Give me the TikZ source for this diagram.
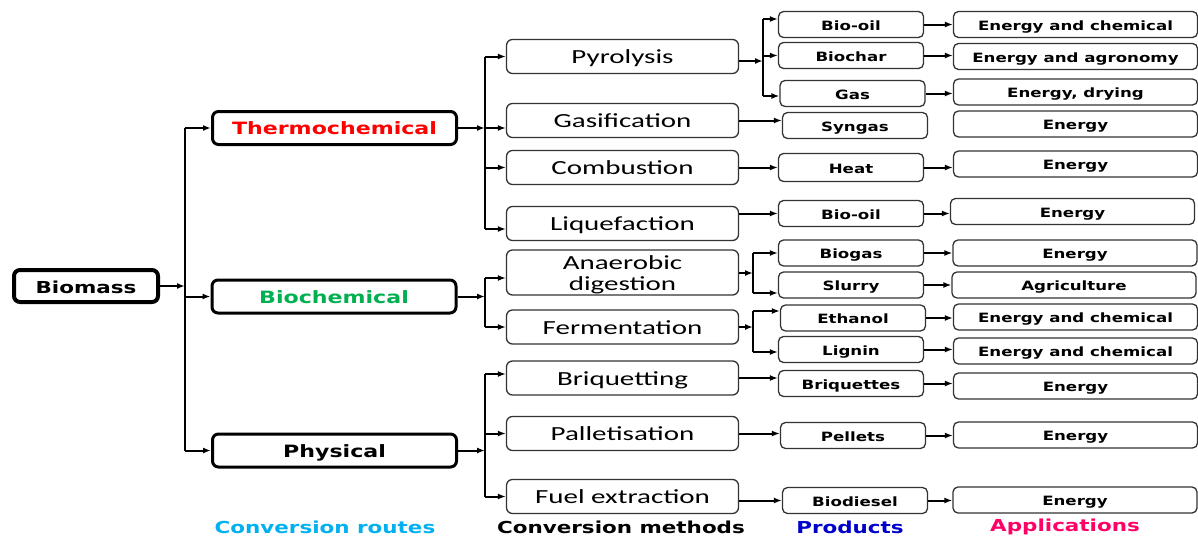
\documentclass[tikz,border=0pt]{standalone}
\usepackage{fontspec}
\setmainfont{DejaVu Sans}[FakeStretch=1.3]
\newfontfamily\methfont{Carlito}[FakeStretch=1.45]
\usetikzlibrary{arrows.meta, positioning}

\definecolor{thermored}{RGB}{255,0,0}
\definecolor{biogreen}{RGB}{0,176,80}
\definecolor{routecyan}{RGB}{0,176,240}
\definecolor{prodblue}{RGB}{0,0,204}
\definecolor{apppink}{RGB}{255,0,102}

\begin{document}
\begin{tikzpicture}[x=1pt, y=-1pt, >={Latex[length=8pt,width=6pt]},
  rootbox/.style={draw, line width=4pt, rounded corners=6pt, minimum width=144pt, minimum height=32pt, inner sep=0pt, text height=15pt, text depth=0pt, font=\bfseries\fontsize{16.5}{18}\selectfont},
  routebox/.style={draw, line width=3pt, rounded corners=6pt, minimum width=244pt, minimum height=33pt, inner sep=0pt, text height=13.6pt, text depth=0pt, font=\bfseries\fontsize{17}{18}\selectfont},
  methodbox/.style={draw=black!80, line width=1.3pt, rounded corners=6pt, minimum width=232pt, minimum height=34pt, inner sep=0pt, text height=14.6pt, text depth=0pt, align=center, font=\methfont\fontsize{20}{21}\selectfont},
  prodbox/.style={draw=black!80, line width=1.3pt, rounded corners=5pt, minimum width=145pt, minimum height=26pt, inner sep=0pt, text height=11pt, text depth=0pt, font=\bfseries\fontsize{12.8}{14}\selectfont},
  appbox/.style={prodbox, minimum width=244pt},
  link/.style={line width=2pt},
  caption/.style={font=\bfseries\fontsize{16.5}{18}\selectfont}]
\useasboundingbox (0,0) rectangle (1198,538);

% root and routes
\node [rootbox] (biomass) at (86,286) {Biomass};
\node [routebox, text=thermored] (thermo) at (334.5,128) {Thermochemical};
\node [routebox, text=biogreen] (biochem) at (334,296.5) {Biochemical};
\node [routebox] (phys) at (334.5,450.5) {Physical};

% conversion methods
\node [methodbox] (pyro) at (622.5,56.5) {Pyrolysis};
\node [methodbox] (gasi) at (622.5,120.5) {Gasification};
\node [methodbox] (comb) at (622.5,167.5) {Combustion};
\node [methodbox] (liq) at (622.5,223.5) {Liquefaction};
\node [methodbox, minimum height=40pt, text height=40pt, text depth=5pt] (anae) at (622.5,272.5) {Anaerobic\\digestion};
\node [methodbox] (ferm) at (622.5,327) {Fermentation};
\node [methodbox] (briq) at (622.5,378) {Briquetting};
\node [methodbox] (pall) at (622.5,433.5) {Palletisation};
\node [methodbox] (fuel) at (622.5,496.5) {Fuel extraction};

% products
\node [prodbox] (bioil) at (851,24.5) {Bio-oil};
\node [prodbox] (biochar) at (851,55.5) {Biochar};
\node [prodbox] (gas) at (852.5,93.5) {Gas};
\node [prodbox] (syngas) at (855,125.5) {Syngas};
\node [prodbox, minimum height=28pt] (heat) at (851,167.5) {Heat};
\node [prodbox] (bioiltwo) at (851,213.5) {Bio-oil};
\node [prodbox] (biogas) at (851,253) {Biogas};
\node [prodbox] (slurry) at (851,285) {Slurry};
\node [prodbox] (ethanol) at (853,318) {Ethanol};
\node [prodbox] (lignin) at (851,349.5) {Lignin};
\node [prodbox] (briqs) at (851,383.5) {Briquettes};
\node [prodbox] (pellets) at (853,435.5) {Pellets};
\node [prodbox] (biodiesel) at (855,500.5) {Biodiesel};

% applications
\node [appbox] (appa) at (1075.5,24.5) {Energy and chemical};
\node [appbox] (appb) at (1075.5,56.5) {Energy and agronomy};
\node [appbox] (appc) at (1075.5,92) {Energy, drying};
\node [appbox] (appd) at (1075.5,124) {Energy};
\node [appbox] (appe) at (1075.5,164) {Energy};
\node [appbox] (appf) at (1072.5,211.5) {Energy};
\node [appbox] (appg) at (1075,253) {Energy};
\node [appbox] (apph) at (1074,285) {Agriculture};
\node [appbox] (appi) at (1075.5,317) {Energy and chemical};
\node [appbox] (appj) at (1075.5,351) {Energy and chemical};
\node [appbox] (appk) at (1075.5,386) {Energy};
\node [appbox] (appl) at (1075.5,435) {Energy};
\node [appbox] (appm) at (1075,500) {Energy};

% column captions
\node [caption, text=routecyan] (caproutes) at (325,527) {Conversion routes};
\node [caption] (capmethods) at (621,527) {Conversion methods};
\node [caption, text=prodblue] (capprod) at (850,527) {Products};
\node [caption, text=apppink] (capapp) at (1065,527) {Applications};

% junctions
\coordinate (rj) at (185,286);
\coordinate (tj) at (485,128);
\coordinate (bj) at (485,296.5);
\coordinate (pj) at (485,450.5);
\coordinate (pyj) at (763,61);
\coordinate (anj) at (753,273);
\coordinate (fej) at (753,327);

% biomass to routes
\draw [link, ->] (biomass) -- (rj);
\draw [link] (rj |- thermo) -- (rj |- phys);
\foreach \r in {thermo, biochem, phys}
  \draw [link, ->] (rj |- \r) -- (\r.west);

% routes to methods
\draw [link, ->] (thermo) -- (tj);
\draw [link] (tj |- pyro) -- ([yshift=-5.5pt]tj |- liq);
\draw [link, ->] (tj |- pyro) -- (pyro.west);
\draw [link, ->] (tj) -- (tj -| gasi.west);
\draw [link, ->] (tj |- comb) -- (comb.west);
\draw [link, ->] ([yshift=-5.5pt]tj |- liq) -- ([yshift=-5.5pt]liq.west);

\draw [link, ->] (biochem) -- (bj);
\draw [link] ([yshift=-5.5pt]bj |- anae) -- (bj |- ferm);
\draw [link, ->] ([yshift=-5.5pt]bj |- anae) -- ([yshift=-5.5pt]anae.west);
\draw [link, ->] (bj |- ferm) -- (ferm.west);

\draw [link, ->] (phys) -- (pj);
\draw [link] ([yshift=4pt]pj |- briq) -- (pj |- fuel);
\draw [link, ->] ([yshift=4pt]pj |- briq) -- ([yshift=4pt]briq.west);
\draw [link, ->] (pj |- pall) -- (pall.west);
\draw [link, ->] (pj |- fuel) -- (fuel.west);

% methods to products
\draw [link, ->] (pyro.east |- pyj) -- (pyj);
\draw [link] ([yshift=5.5pt]pyj |- bioil) -- ([yshift=-2.5pt]pyj |- gas);
\draw [link, ->] ([yshift=5.5pt]pyj |- bioil) -- ([yshift=5.5pt]bioil.west);
\draw [link, ->] (pyj |- biochar) -- (biochar.west);
\draw [link, ->] ([yshift=-2.5pt]pyj |- gas) -- ([yshift=-2.5pt]gas.west);

\draw [link, ->] (anae.east |- anj) -- (anj);
\draw [link] (anj |- biogas) -- ([yshift=-8pt]anj |- slurry);
\draw [link, ->] (anj |- biogas) -- (biogas.west);
\draw [link, ->] ([yshift=-8pt]anj |- slurry) -- ([yshift=-8pt]slurry.west);

\draw [link, ->] (ferm.east) -- (fej);
\draw [link] ([yshift=7pt]fej |- ethanol) -- ([yshift=-2.5pt]fej |- lignin);
\draw [link, ->] ([yshift=7pt]fej |- ethanol) -- ([yshift=7pt]ethanol.west);
\draw [link, ->] ([yshift=-2.5pt]fej |- lignin) -- ([yshift=-2.5pt]lignin.west);

\foreach \m/\p in {gasi/syngas, comb/heat, briq/briqs, pall/pellets}
  \draw [link, ->] (\m.east) -- (\m.east -| \p.west);
\foreach \m/\p in {liq/bioiltwo, fuel/biodiesel}
  \draw [link, ->] (\m.east |- \p) -- (\p.west);

% products to applications
\foreach \p/\a in {bioil/appa, biochar/appb, gas/appc, heat/appe, bioiltwo/appf,
    biogas/appg, slurry/apph, ethanol/appi, lignin/appj, briqs/appk,
    pellets/appl, biodiesel/appm}
  \draw [link, ->] (\p.east) -- (\p.east -| \a.west);

\end{tikzpicture}
\end{document}
